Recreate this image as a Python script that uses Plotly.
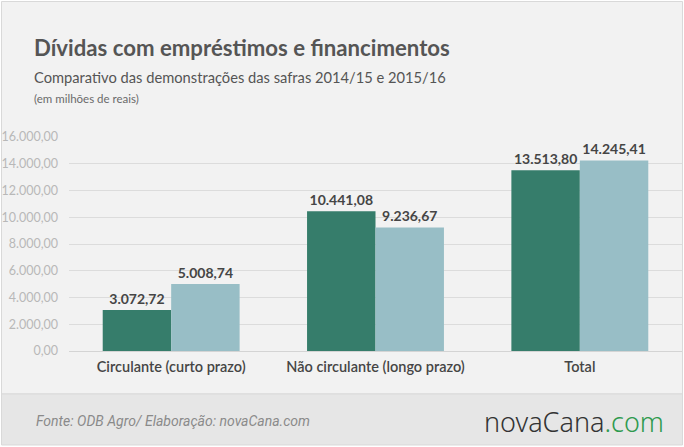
import plotly.graph_objects as go

categories = ["Circulante (curto prazo)", "Não circulante (longo prazo)", "Total"]
safra_2014_15 = [3072.72, 10441.08, 13513.80]
safra_2015_16 = [5008.74, 9236.67, 14245.41]
tick_vals = [0, 2000, 4000, 6000, 8000, 10000, 12000, 14000, 16000]


def br(v):
    s = f"{v:,.2f}"
    return s.replace(",", "X").replace(".", ",").replace("X", ".")


tick_text = [br(v) for v in tick_vals]

W, H = 684, 447
L, R, T, B = 69, 2, 137, 96
PW, PH = W - L - R, H - T - B


def px(x):
    return (x - L) / PW


def py(y):
    return (H - B - y) / PH


FONT = "Lato"
GREEN = "#367d6b"
LIGHT = "#98bec6"
LABEL = "#454545"

fig = go.Figure()
fig.add_trace(go.Bar(x=categories, y=safra_2014_15, name="2014/15", marker_color=GREEN,
                     marker_line_width=0,
                     text=[br(v) for v in safra_2014_15], textposition="outside",
                     textfont=dict(family=FONT, size=14, color=LABEL, weight=700), cliponaxis=False))
fig.add_trace(go.Bar(x=categories, y=safra_2015_16, name="2015/16", marker_color=LIGHT,
                     marker_line_width=0,
                     text=[br(v) for v in safra_2015_16], textposition="outside",
                     textfont=dict(family=FONT, size=14, color=LABEL, weight=700), cliponaxis=False))

shapes = [
    dict(type="rect", xref="paper", yref="paper", x0=px(1.5), x1=px(682.5), y0=py(394), y1=py(1.5),
         fillcolor="#f2f2f2", line=dict(color="#d9d9d9", width=1), layer="below"),
    dict(type="rect", xref="paper", yref="paper", x0=px(1.5), x1=px(682.5), y0=py(445), y1=py(394),
         fillcolor="#e6e6e6", line=dict(color="#d9d9d9", width=1), layer="below"),
]

annotations = [
    dict(text="Dívidas com empréstimos e financimentos", x=px(32), y=py(48), xanchor="left", yanchor="middle",
         font=dict(family=FONT, size=22.2, color="#555555", weight=700), showarrow=False,
         xref="paper", yref="paper"),
    dict(text="Comparativo das demonstrações das safras 2014/15 e 2015/16", x=px(32), y=py(77),
         xanchor="left", yanchor="middle",
         font=dict(family=FONT, size=14.7, color="#555555"), showarrow=False, xref="paper", yref="paper"),
    dict(text="(em milhões de reais)", x=px(32), y=py(98), xanchor="left", yanchor="middle",
         font=dict(family=FONT, size=11.5, color="#6a6a6a"), showarrow=False, xref="paper", yref="paper"),
    dict(text="<i>Fonte: ODB Agro/ Elaboração: novaCana.com</i>", x=px(34), y=py(421), xanchor="left",
         yanchor="middle", font=dict(family="Roboto", size=14, color="#8a8a8a"), showarrow=False,
         xref="paper", yref="paper"),
    dict(text="novaCana<span style='color:#2e9a4e'>.com</span>", x=px(666), y=py(421), xanchor="right",
         yanchor="middle", font=dict(family="Noto Sans", size=27, color="#333333", weight=300),
         showarrow=False, xref="paper", yref="paper"),
]

fig.update_layout(
    width=W, height=H,
    margin=dict(l=L, r=R, t=T, b=B, pad=0),
    paper_bgcolor="white", plot_bgcolor="rgba(0,0,0,0)",
    barmode="group", bargap=0.33, bargroupgap=0,
    showlegend=False,
    shapes=shapes, annotations=annotations,
    xaxis=dict(showgrid=False, showline=False, ticks="", ticklabelstandoff=5,
               tickfont=dict(family=FONT, size=14.5, color=LABEL, weight=600)),
    yaxis=dict(range=[0, 16000], tickvals=tick_vals, ticktext=tick_text, showgrid=True,
               gridcolor="#dcdcdc", gridwidth=1, zeroline=True, zerolinecolor="#d4d4d4", zerolinewidth=1,
               showline=False, ticks="", ticklabelstandoff=10,
               tickfont=dict(family=FONT, size=12.5, color="#b8b8b8")),
)

fig.write_html("out.html")
